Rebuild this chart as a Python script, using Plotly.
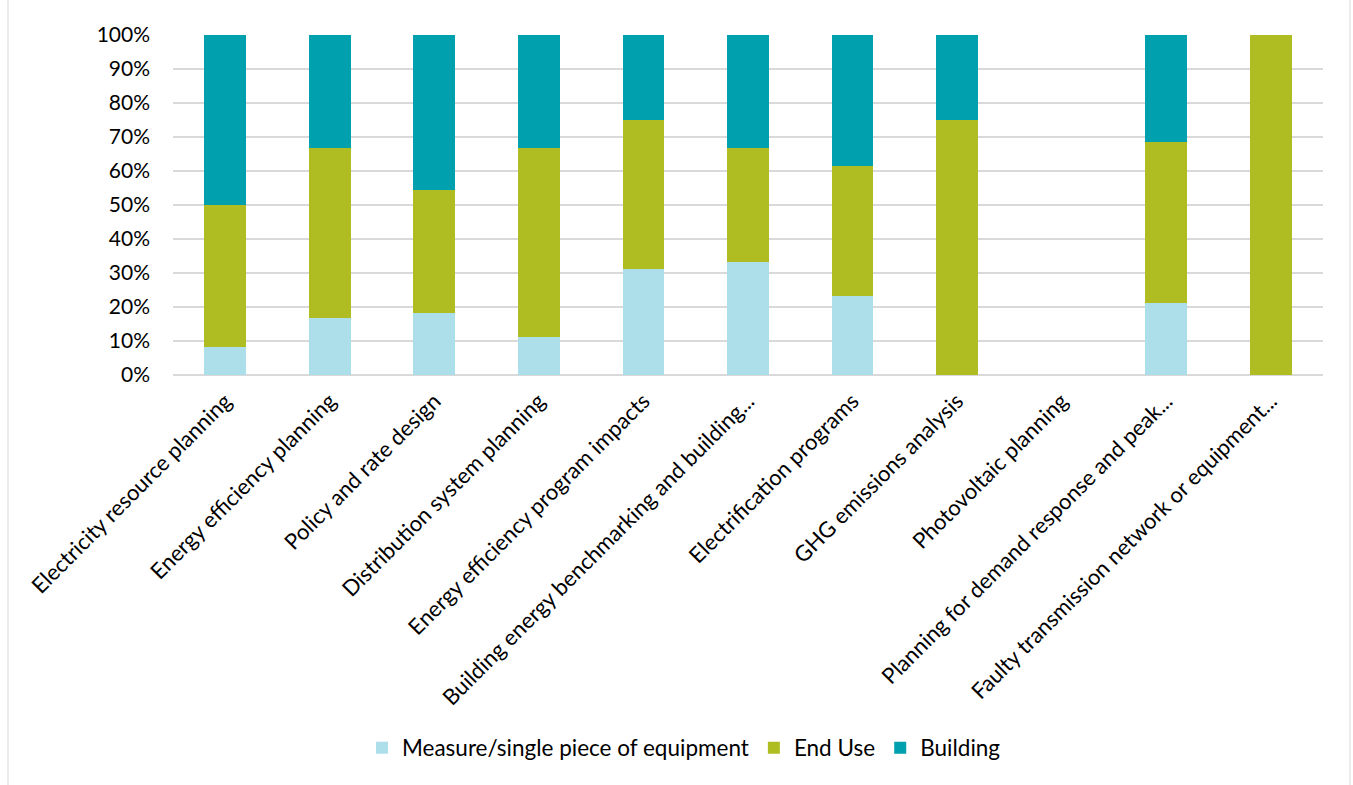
import plotly.graph_objects as go

categories = [
    "Electricity resource planning",
    "Energy efficiency planning",
    "Policy and rate design",
    "Distribution system planning",
    "Energy efficiency program impacts",
    "Building energy benchmarking and building...",
    "Electrification programs",
    "GHG emissions analysis",
    "Photovoltaic planning",
    "Planning for demand response and peak...",
    "Faulty transmission network or equipment...",
]
measure = [8.3, 16.7, 18.2, 11.1, 31.25, 33.3, 23.1, 0, 0, 21.1, 0]
end_use = [41.7, 50.0, 36.3, 55.6, 43.75, 33.4, 38.4, 75.0, 0, 47.3, 100.0]
building = [50.0, 33.3, 45.5, 33.3, 25.0, 33.3, 38.5, 25.0, 0, 31.6, 0]

series = [
    ("Measure/single piece of equipment", measure, "#ADDFEB"),
    ("End Use", end_use, "#AFBD22"),
    ("Building", building, "#00A0AE"),
]

fig = go.Figure()
for name, vals, col in series:
    fig.add_trace(go.Bar(
        x=categories, y=[v / 100 for v in vals], name=name,
        marker=dict(color=col, line=dict(width=0)),
    ))

W, H = 1353, 785
L, R, T, B = 173, 30, 35, 410
pw, ph = W - L - R, H - T - B
FONT = "Lato"

fig.update_layout(
    width=W, height=H,
    barmode="stack", bargap=0.6,
    margin=dict(l=L, r=R, t=T, b=B),
    plot_bgcolor="white", paper_bgcolor="white",
    font=dict(family=FONT, size=21, color="#000000"),
    xaxis=dict(tickangle=-45, showgrid=False, showline=False, ticks="",
               ticklabelstandoff=8, tickfont=dict(size=22)),
    yaxis=dict(range=[0, 1], tickformat=".0%", dtick=0.1,
               showgrid=True, gridcolor="#D9D9D9", gridwidth=1.5,
               zeroline=True, zerolinecolor="#D9D9D9", zerolinewidth=1.5,
               showline=False, ticks="", ticklabelstandoff=22,
               tickfont=dict(size=21)),
    legend=dict(orientation="h", xref="container", yref="container",
                x=684 / W, y=1 - 748 / H, xanchor="center", yanchor="middle",
                font=dict(size=22.5), traceorder="normal", itemwidth=30),
    showlegend=True,
)

fig.add_shape(type="rect", xref="paper", yref="paper",
              x0=(8 - L) / pw, x1=(1350 - L) / pw,
              y0=(T + ph - 790) / ph, y1=(T + ph + 5) / ph,
              line=dict(color="#D9D9D9", width=1), fillcolor="rgba(0,0,0,0)",
              layer="below")

fig.write_html("out.html")
